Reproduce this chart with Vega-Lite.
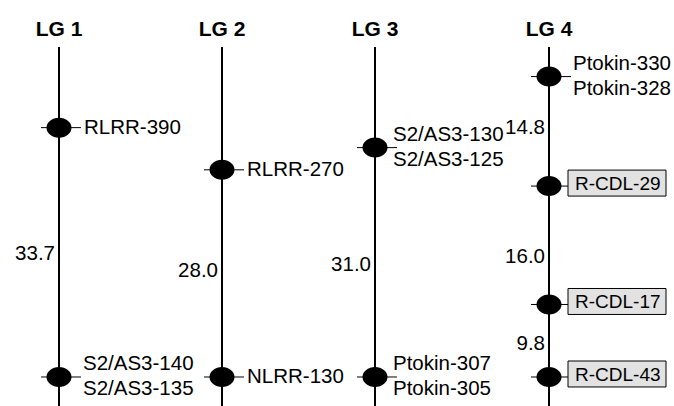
{
  "$schema": "https://vega.github.io/schema/vega-lite/v6.json",
  "width": 674,
  "height": 406,
  "padding": 0,
  "autosize": {"type": "none"},
  "background": "white",
  "config": {"view": {"stroke": null}, "font": "Liberation Sans"},
  "datasets": {
    "groups": [
      {"lg": "LG 1", "x": 59, "top": 44.6, "bottom": -3.92, "title": 46.9},
      {"lg": "LG 2", "x": 222, "top": 44.6, "bottom": -3.92, "title": 46.9},
      {"lg": "LG 3", "x": 375, "top": 44.6, "bottom": -3.92, "title": 46.9},
      {"lg": "LG 4", "x": 549, "top": 44.6, "bottom": -3.92, "title": 46.9}
    ],
    "markers": [
      {"lg": "LG 1", "x": 59, "cm": 33.7, "label": "RLRR-390", "boxed": false},
      {"lg": "LG 1", "x": 59, "cm": 0, "label": "S2/AS3-140\nS2/AS3-135", "boxed": false},
      {"lg": "LG 2", "x": 222, "cm": 28.0, "label": "RLRR-270", "boxed": false},
      {"lg": "LG 2", "x": 222, "cm": 0, "label": "NLRR-130", "boxed": false},
      {"lg": "LG 3", "x": 375, "cm": 31.0, "label": "S2/AS3-130\nS2/AS3-125", "boxed": false},
      {"lg": "LG 3", "x": 375, "cm": 0, "label": "Ptokin-307\nPtokin-305", "boxed": false},
      {"lg": "LG 4", "x": 549, "cm": 40.6, "label": "Ptokin-330\nPtokin-328", "boxed": false},
      {"lg": "LG 4", "x": 549, "cm": 25.8, "label": "R-CDL-29", "boxed": true},
      {"lg": "LG 4", "x": 549, "cm": 9.8, "label": "R-CDL-17", "boxed": true},
      {"lg": "LG 4", "x": 549, "cm": 0, "label": "R-CDL-43", "boxed": true}
    ],
    "distances": [
      {"lg": "LG 1", "x": 59, "pos": 16.6, "dist": "33.7"},
      {"lg": "LG 2", "x": 222, "pos": 14.3, "dist": "28.0"},
      {"lg": "LG 3", "x": 375, "pos": 15.1, "dist": "31.0"},
      {"lg": "LG 4", "x": 549, "pos": 33.6, "dist": "14.8"},
      {"lg": "LG 4", "x": 549, "pos": 16.2, "dist": "16.0"},
      {"lg": "LG 4", "x": 549, "pos": 4.5, "dist": "9.8"}
    ]
  },
  "layer": [
    {
      "data": {"name": "groups"},
      "mark": {"type": "rule", "color": "black", "strokeWidth": 2},
      "encoding": {
        "x": {"field": "x", "type": "quantitative", "scale": {"domain": [0, 674], "nice": false, "zero": false}, "axis": null},
        "y": {"field": "top", "type": "quantitative", "scale": {"domain": [-3.92, 50.95], "nice": false, "zero": false}, "axis": null},
        "y2": {"field": "bottom"}
      }
    },
    {
      "data": {"name": "groups"},
      "mark": {"type": "text", "fontWeight": "bold", "fontSize": 21, "baseline": "middle", "align": "center", "color": "black"},
      "encoding": {
        "x": {"field": "x", "type": "quantitative", "scale": {"domain": [0, 674], "nice": false, "zero": false}, "axis": null},
        "y": {"field": "title", "type": "quantitative", "scale": {"domain": [-3.92, 50.95], "nice": false, "zero": false}, "axis": null},
        "text": {"field": "lg"}
      }
    },
    {
      "data": {"name": "markers"},
      "mark": {"type": "rule", "color": "black", "strokeWidth": 1, "xOffset": -18, "x2Offset": 22},
      "encoding": {
        "x": {"field": "x", "type": "quantitative", "scale": {"domain": [0, 674], "nice": false, "zero": false}, "axis": null},
        "x2": {"field": "x"},
        "y": {"field": "cm", "type": "quantitative", "scale": {"domain": [-3.92, 50.95], "nice": false, "zero": false}, "axis": null}
      }
    },
    {
      "data": {"name": "markers"},
      "mark": {"type": "point", "shape": "M-1,0C-1,-0.44,-0.55,-0.8,0,-0.8C0.55,-0.8,1,-0.44,1,0C1,0.44,0.55,0.8,0,0.8C-0.55,0.8,-1,0.44,-1,0Z", "size": 625, "filled": true, "color": "black", "opacity": 1, "strokeWidth": 0},
      "encoding": {
        "x": {"field": "x", "type": "quantitative", "scale": {"domain": [0, 674], "nice": false, "zero": false}, "axis": null},
        "y": {"field": "cm", "type": "quantitative", "scale": {"domain": [-3.92, 50.95], "nice": false, "zero": false}, "axis": null}
      }
    },
    {
      "data": {"name": "markers"},
      "transform": [{"filter": "datum.boxed"}],
      "mark": {"type": "point", "shape": "M-1,-0.265L1,-0.265L1,0.265L-1,0.265Z", "size": 9604, "filled": true, "fill": "#e2e2e2", "stroke": "black", "strokeWidth": 1, "opacity": 1, "xOffset": 68, "yOffset": -3},
      "encoding": {
        "x": {"field": "x", "type": "quantitative", "scale": {"domain": [0, 674], "nice": false, "zero": false}, "axis": null},
        "y": {"field": "cm", "type": "quantitative", "scale": {"domain": [-3.92, 50.95], "nice": false, "zero": false}, "axis": null}
      }
    },
    {
      "data": {"name": "markers"},
      "transform": [{"filter": {"field": "label", "oneOf": ["RLRR-390", "RLRR-270", "NLRR-130"]}}],
      "mark": {"type": "text", "align": "left", "baseline": "middle", "dx": 25, "fontSize": 20.5, "color": "black"},
      "encoding": {
        "x": {"field": "x", "type": "quantitative", "scale": {"domain": [0, 674], "nice": false, "zero": false}, "axis": null},
        "y": {"field": "cm", "type": "quantitative", "scale": {"domain": [-3.92, 50.95], "nice": false, "zero": false}, "axis": null},
        "text": {"field": "label"}
      }
    },
    {
      "data": {"name": "markers"},
      "transform": [{"filter": "!datum.boxed && datum.lg != 'LG 2' && datum.lg != 'LG 3' && datum.label != 'RLRR-390'"}],
      "mark": {"type": "text", "align": "left", "baseline": "middle", "dx": 24, "dy": -12.5, "fontSize": 20.5, "lineBreak": "\n", "lineHeight": 25, "color": "black"},
      "encoding": {
        "x": {"field": "x", "type": "quantitative", "scale": {"domain": [0, 674], "nice": false, "zero": false}, "axis": null},
        "y": {"field": "cm", "type": "quantitative", "scale": {"domain": [-3.92, 50.95], "nice": false, "zero": false}, "axis": null},
        "text": {"field": "label"}
      }
    },
    {
      "data": {"name": "markers"},
      "transform": [{"filter": "!datum.boxed && datum.lg == 'LG 3'"}],
      "mark": {"type": "text", "align": "left", "baseline": "middle", "dx": 18, "dy": -12.5, "fontSize": 20.5, "lineBreak": "\n", "lineHeight": 25, "color": "black"},
      "encoding": {
        "x": {"field": "x", "type": "quantitative", "scale": {"domain": [0, 674], "nice": false, "zero": false}, "axis": null},
        "y": {"field": "cm", "type": "quantitative", "scale": {"domain": [-3.92, 50.95], "nice": false, "zero": false}, "axis": null},
        "text": {"field": "label"}
      }
    },
    {
      "data": {"name": "markers"},
      "transform": [{"filter": "datum.boxed"}],
      "mark": {"type": "text", "align": "left", "baseline": "middle", "dx": 26, "dy": -2, "fontSize": 19, "color": "black"},
      "encoding": {
        "x": {"field": "x", "type": "quantitative", "scale": {"domain": [0, 674], "nice": false, "zero": false}, "axis": null},
        "y": {"field": "cm", "type": "quantitative", "scale": {"domain": [-3.92, 50.95], "nice": false, "zero": false}, "axis": null},
        "text": {"field": "label"}
      }
    },
    {
      "data": {"name": "distances"},
      "mark": {"type": "text", "align": "right", "baseline": "middle", "dx": -4, "fontSize": 20.5, "color": "black"},
      "encoding": {
        "x": {"field": "x", "type": "quantitative", "scale": {"domain": [0, 674], "nice": false, "zero": false}, "axis": null},
        "y": {"field": "pos", "type": "quantitative", "scale": {"domain": [-3.92, 50.95], "nice": false, "zero": false}, "axis": null},
        "text": {"field": "dist"}
      }
    }
  ]
}
